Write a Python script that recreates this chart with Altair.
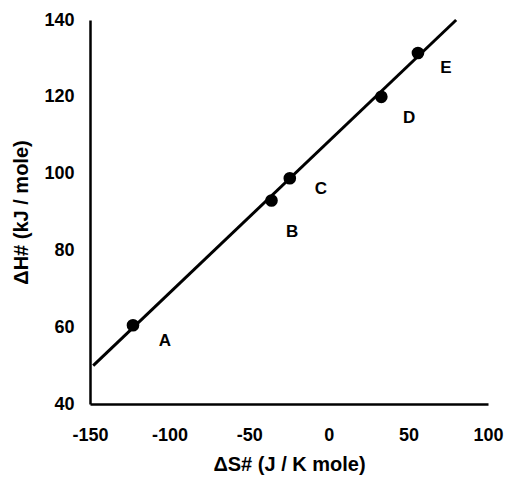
import altair as alt
import pandas as pd

# Data points
labels = ["A", "B", "C", "D", "E"]
dS = [-123, -36, -24.5, 33, 56]
dH = [60.5, 93, 98.8, 120, 131.4]
# label positions
label_x = [-103, -23, -5, 50.5, 73.5]
label_y = [56.4, 84.8, 96, 114.5, 127.5]
# fitted line endpoints
line_x = [-148, 80]
line_y = [50, 140]

pts = pd.DataFrame({"dS": dS, "dH": dH, "label": labels})
lbl = pd.DataFrame({"x": label_x, "y": label_y, "label": labels})
ln = pd.DataFrame({"x": line_x, "y": line_y})

FONT = "Liberation Sans"

xscale = alt.Scale(domain=[-150, 100], nice=False, zero=False)
yscale = alt.Scale(domain=[40, 140], nice=False, zero=False)

xaxis = alt.Axis(title="ΔS# (J / K mole)", values=[-150, -100, -50, 0, 50, 100],
                 labelExpr="'' + datum.value",
                 grid=False, ticks=False, domainColor="black", domainWidth=2.5,
                 labelFont=FONT, labelFontWeight="bold", labelFontSize=18, labelColor="black",
                 labelPadding=22, titleFont=FONT, titleFontWeight="bold", titleFontSize=20,
                 titleColor="black", titlePadding=10, labelFlush=False)
yaxis = alt.Axis(title="ΔH# (kJ / mole)", values=[40, 60, 80, 100, 120, 140],
                 grid=False, ticks=False, domainColor="black", domainWidth=2.5,
                 labelFont=FONT, labelFontWeight="bold", labelFontSize=18, labelColor="black",
                 labelPadding=16, titleFont=FONT, titleFontWeight="bold", titleFontSize=20,
                 titleColor="black", titlePadding=12, labelFlush=False)

line = alt.Chart(ln).mark_line(color="black", strokeWidth=3).encode(
    x=alt.X("x:Q", scale=xscale, axis=xaxis),
    y=alt.Y("y:Q", scale=yscale, axis=yaxis),
)
points = alt.Chart(pts).mark_circle(color="black", opacity=1, size=160).encode(
    x=alt.X("dS:Q", scale=xscale),
    y=alt.Y("dH:Q", scale=yscale),
)
text = alt.Chart(lbl).mark_text(font=FONT, fontWeight="bold", fontSize=17, color="black").encode(
    x=alt.X("x:Q", scale=xscale),
    y=alt.Y("y:Q", scale=yscale),
    text="label:N",
)

chart = alt.layer(line, points, text).properties(
    width=398, height=384,
    autosize=alt.AutoSizeParams(type="none"),
    padding={"left": 90, "top": 20, "right": 20, "bottom": 73},
    background="white",
).configure_view(stroke=None)

chart.save("out.html", embed_options={"renderer": "svg", "actions": False})
